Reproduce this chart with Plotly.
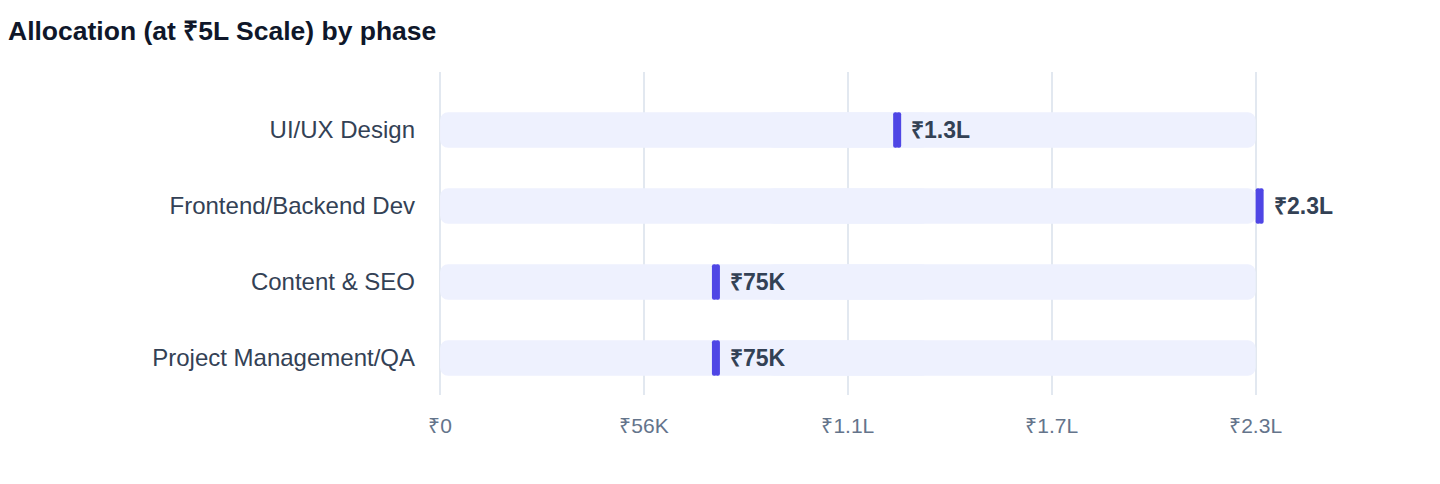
import plotly.graph_objects as go

# dados
fases = ["UI/UX Design", "Frontend/Backend Dev", "Content & SEO", "Project Management/QA"]
valores = [125000, 225000, 75000, 75000]
rotulos = ["₹1.3L", "₹2.3L", "₹75K", "₹75K"]
escala_max = 225000
tick_vals = [0, 56250, 112500, 168750, 225000]
tick_text = ["₹0", "₹56K", "₹1.1L", "₹1.7L", "₹2.3L"]

fonte = "Helvetica Neue, Helvetica, Liberation Sans, Arial, sans-serif"
cor_trilha = "#eef1fe"
cor_marca = "#4f46e5"

# px por unidade do eixo (816 px para a escala toda)
px_por_un = 816 / escala_max
x_min, x_max = -1400, 240000
larg_marca = 8 / px_por_un


def barra_arredondada(fig, inicio, comp, cor, raio):
    # duas metades sobrepostas: uma arredonda a direita, outra a esquerda
    a_base = [i + c * 0.4 for i, c in zip(inicio, comp)]
    a_x = [c * 0.6 for c in comp]
    b_base = [i + c * 0.6 for i, c in zip(inicio, comp)]
    b_x = [-c * 0.6 for c in comp]
    for base, x in ((a_base, a_x), (b_base, b_x)):
        fig.add_trace(go.Bar(
            y=fases, x=x, base=base, orientation="h", width=0.47,
            marker=dict(color=cor, line=dict(width=0), cornerradius=raio),
            cliponaxis=False, hoverinfo="skip", showlegend=False,
        ))


fig = go.Figure()
barra_arredondada(fig, [0] * len(fases), [escala_max] * len(fases), cor_trilha, 8)
barra_arredondada(fig, valores, [larg_marca] * len(fases), cor_marca, 4)

for fase, v, txt in zip(fases, valores, rotulos):
    fig.add_annotation(
        x=v, y=fase, text=f"<b>{txt}</b>", showarrow=False,
        xanchor="left", xshift=16,
        font=dict(family=fonte, size=23, color="#334155"),
    )

larg_fig, alt_fig = 1432, 476
esq = 432 + x_min * px_por_un
larg_plot = (x_max - x_min) * px_por_un
fig.update_layout(
    width=larg_fig, height=alt_fig,
    barmode="overlay",
    plot_bgcolor="white", paper_bgcolor="white",
    margin=dict(l=esq, r=larg_fig - esq - larg_plot, t=64, b=89),
    title=dict(
        text="<b>Allocation (at ₹5L Scale) by phase</b>",
        x=0.0, xref="container", xanchor="left",
        y=1 - 23 / alt_fig, yref="container", yanchor="middle",
        font=dict(family=fonte, size=26.5, color="#0f172a"),
    ),
    font=dict(family=fonte),
    showlegend=False,
)

fig.update_xaxes(
    range=[x_min, x_max], tickvals=tick_vals, ticktext=tick_text,
    showgrid=True, gridcolor="#e2e8f0", gridwidth=1.5,
    zeroline=False, showline=False, ticks="",
    ticklabelstandoff=16,
    tickfont=dict(family=fonte, size=21, color="#64748b"),
)
fig.update_yaxes(
    categoryorder="array", categoryarray=fases,
    range=[3.487, -0.763],
    showgrid=False, zeroline=False, showline=False, ticks="",
    ticklabelstandoff=19,
    tickfont=dict(family=fonte, size=24, color="#334155"),
)

fig.write_html("out.html")
